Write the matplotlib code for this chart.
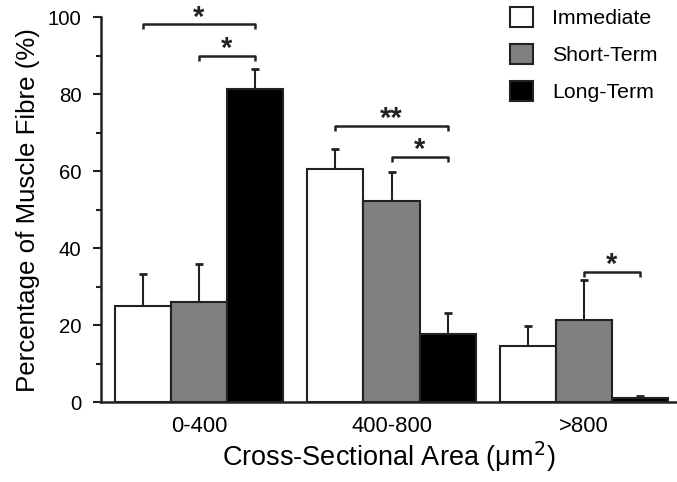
import matplotlib
matplotlib.use("Agg")
import matplotlib.pyplot as plt
from matplotlib.patches import Patch
import numpy as np

plt.rcParams['font.family'] = ['Liberation Sans', 'DejaVu Sans']

categories = ['0-400', '400-800', '>800']
series = ['Immediate', 'Short-Term', 'Long-Term']
immediate = [25.0, 60.5, 14.6]
short_term = [26.0, 52.2, 21.3]
long_term = [81.3, 17.7, 1.0]
immediate_err = [8.4, 5.2, 5.2]
short_term_err = [10.0, 7.7, 10.5]
long_term_err = [5.3, 5.5, 0.7]
colors = ['white', '#808080', 'black']

# significance brackets: (category index, bar a, bar b, level, label)
brackets = [
    (0, 0, 2, 98.2, '*'),
    (0, 1, 2, 90.0, '*'),
    (1, 0, 2, 71.8, '**'),
    (1, 1, 2, 63.8, '*'),
    (2, 1, 2, 33.9, '*'),
]

fig = plt.figure(figsize=(6.77, 4.82), dpi=100)
ax = fig.add_axes([101/677, 1-402.3/482, 1-101/677, (402.3-17.3)/482])

x = np.arange(len(categories))
w = 0.291
vals = [immediate, short_term, long_term]
errs = [immediate_err, short_term_err, long_term_err]
offsets = [-w, 0, w]
for v, e, c, off, name in zip(vals, errs, colors, offsets, series):
    ax.bar(x + off, v, width=w, color=c, edgecolor='#222222', linewidth=1.5, zorder=2)
    ax.errorbar(x + off, v, yerr=[np.zeros(len(v)), e], fmt='none', ecolor='#222222',
                elinewidth=1.5, capsize=2.8, capthick=2, zorder=1)

for ci, a, b, lvl, lab in brackets:
    xa = ci + offsets[a]
    xb = ci + offsets[b]
    ax.plot([xa, xa, xb, xb], [lvl - 1.3, lvl, lvl, lvl - 1.3], color='#222222', lw=1.8,
            clip_on=False, solid_capstyle='butt')
    ax.annotate(lab, xy=((xa + xb) / 2, lvl), xytext=(0, -1), textcoords='offset points',
                ha='center', va='baseline', fontsize=21, fontweight='bold', color='#222222',
                annotation_clip=False)

ax.set_xlim(-0.509, 2.483)
ax.set_ylim(0, 100)
ax.set_yticks(np.arange(0, 101, 20))
ax.set_yticks(np.arange(10, 100, 20), minor=True)
ax.tick_params(axis='y', which='major', length=6, width=1.5, labelsize=14.7, direction='out', pad=8, color='#222222')
ax.tick_params(axis='y', which='minor', length=3.5, width=1.5, direction='out', color='#222222')
ax.set_xticks(x)
ax.set_xticklabels(categories)
ax.tick_params(axis='x', length=0, labelsize=15.8, pad=10)
for s in ['top', 'right']:
    ax.spines[s].set_visible(False)
for s in ['left', 'bottom']:
    ax.spines[s].set_linewidth(1.8)
    ax.spines[s].set_color('#222222')

ax.set_ylabel('Percentage of Muscle Fibre (%)', fontsize=18.6)
ax.yaxis.set_label_coords((40 - 101) / 576, 0.5)
ax.set_xlabel('Cross-Sectional Area (μm$^{2}$)', fontsize=19.5, labelpad=2)

handles = [Patch(facecolor=c, edgecolor='#222222', linewidth=1.5, label=n) for c, n in zip(colors, series)]
ax.legend(handles=handles, loc='upper left', bbox_to_anchor=(510/677, 1 - 7/482), bbox_transform=fig.transFigure,
          frameon=False, fontsize=15.3, handlelength=1.08, handleheight=1.04, handletextpad=0.9,
          labelspacing=0.76, borderaxespad=0, borderpad=0)

fig.savefig('out.png', dpi=100)
